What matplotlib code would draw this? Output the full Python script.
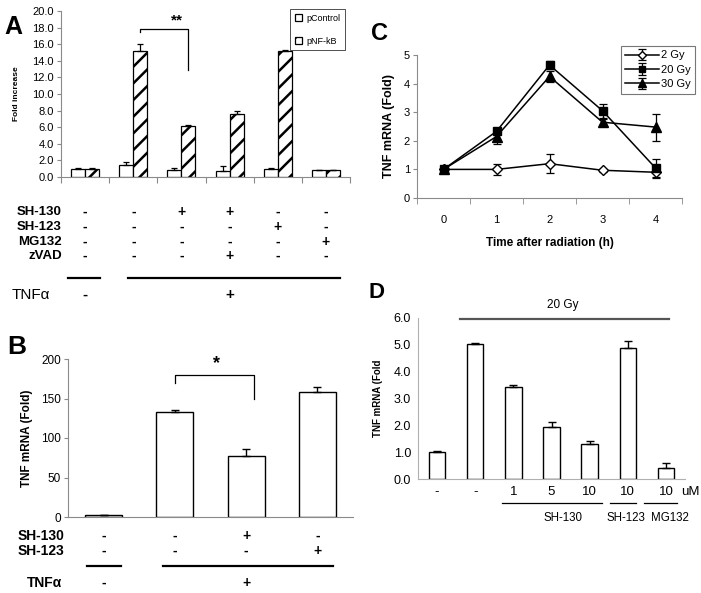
import matplotlib
matplotlib.use("Agg")
import matplotlib.pyplot as plt
import matplotlib.transforms as mtransforms
import numpy as np

plt.rcParams['font.family'] = ['Liberation Sans', 'DejaVu Sans']
plt.rcParams['hatch.linewidth'] = 1.8

W, H = 701, 593

# ---------------- data ----------------
# Panel A
a_groups = np.arange(6)
a_pcontrol = [1.0, 1.5, 0.8, 0.7, 1.0, 0.8]
a_pcontrol_err = [0.05, 0.3, 0.3, 0.6, 0.05, 0.1]
a_pnfkb = [1.0, 15.2, 6.2, 7.6, 15.2, 0.8]
a_pnfkb_err = [0.05, 0.8, 0.1, 0.3, 0.1, 0.1]
a_rows = ['SH-130', 'SH-123', 'MG132', 'zVAD']
a_table = [['-', '-', '+', '+', '-', '-'],
           ['-', '-', '-', '-', '+', '-'],
           ['-', '-', '-', '-', '-', '+'],
           ['-', '-', '-', '+', '-', '-']]
a_yticks = np.arange(0, 21, 2)

# Panel B
b_values = [2.0, 133, 77, 158]
b_err = [0.0, 3, 9, 6]
b_rows = ['SH-130', 'SH-123']
b_table = [['-', '-', '+', '-'],
           ['-', '-', '-', '+']]
b_yticks = [0, 50, 100, 150, 200]

# Panel C
c_time = [0, 1, 2, 3, 4]
c_2gy = [1.0, 1.0, 1.2, 0.97, 0.9]
c_2gy_err = [0.05, 0.2, 0.33, 0.05, 0.2]
c_20gy = [1.0, 2.33, 4.65, 3.05, 1.05]
c_20gy_err = [0.05, 0.1, 0.15, 0.25, 0.3]
c_30gy = [1.0, 2.15, 4.25, 2.65, 2.48]
c_30gy_err = [0.05, 0.27, 0.2, 0.1, 0.47]

# Panel D
d_values = [1.0, 5.02, 3.43, 1.93, 1.32, 4.87, 0.42]
d_err = [0.03, 0.06, 0.09, 0.2, 0.1, 0.26, 0.17]
d_doses = ['-', '-', '1', '5', '10', '10', '10']
d_yticks = np.arange(0, 7, 1.0)


def fx(px):
    return px / W


def fy(py):
    return 1 - py / H


def add_ax(l, t, r, b):
    return fig.add_axes([l / W, 1 - b / H, (r - l) / W, (b - t) / H])


GRAY = '#8a8a8a'

fig = plt.figure(figsize=(W / 100, H / 100), dpi=100)

# ================= Panel A =================
axA = add_ax(61, 11, 350, 177)
bw = 0.29
axA.bar(a_groups - bw / 2, a_pcontrol, bw, color='white', edgecolor='black',
        linewidth=0.9, yerr=[np.zeros(6), a_pcontrol_err],
        error_kw=dict(ecolor='black', elinewidth=0.9, capsize=2.5, capthick=0.9),
        label='pControl', zorder=2)
axA.bar(a_groups + bw / 2, a_pnfkb, bw, color='white', edgecolor='black',
        linewidth=0.9, hatch='//', yerr=[np.zeros(6), a_pnfkb_err],
        error_kw=dict(ecolor='black', elinewidth=0.9, capsize=2.5, capthick=0.9),
        label='pNF-kB', zorder=2)
axA.set_xlim(-0.5, 5.5)
axA.set_ylim(0, 20)
axA.set_yticks(a_yticks)
axA.set_yticklabels([f'{v:.1f}' for v in a_yticks], fontsize=8)
axA.set_xticks(np.arange(-0.5, 6.0, 1.0))
axA.set_xticklabels([])
axA.tick_params(axis='x', length=4, color=GRAY, direction='out')
axA.tick_params(axis='y', length=3, color=GRAY, pad=2)
for s in ['top', 'right']:
    axA.spines[s].set_visible(False)
for s in ['left', 'bottom']:
    axA.spines[s].set_color(GRAY)
axA.set_ylabel('Fold increase', fontsize=6, fontweight='bold', labelpad=9)
leg = axA.legend(loc='upper right', bbox_to_anchor=(fx(345), fy(9)),
                 bbox_transform=fig.transFigure, borderaxespad=0, fontsize=6.5,
                 handlelength=0.8, handleheight=0.8, labelspacing=1.5,
                 handletextpad=0.4, frameon=True, fancybox=False,
                 borderpad=0.55)
leg.get_frame().set_edgecolor('black')
leg.get_frame().set_linewidth(0.6)

# significance bracket A
axA.plot([1 + bw / 2, 1 + bw / 2, 2 + bw / 2, 2 + bw / 2],
         [17.5, 17.85, 17.85, 12.9], color='black', lw=0.9, clip_on=False)
axA.text(1.9, 18.0, '**', ha='center', va='bottom', fontsize=11,
         fontweight='bold')
fig.text(fx(13), fy(27), 'A', fontsize=18, fontweight='bold',
         ha='center', va='center')

# table under A
trA = mtransforms.blended_transform_factory(axA.transData, fig.transFigure)
a_row_y = [212, 227, 242, 256]
for lbl, row, py in zip(a_rows, a_table, a_row_y):
    fig.text(fx(62), fy(py), lbl, ha='right', va='center', fontsize=9.5,
             fontweight='bold')
    for gx, sym in zip(a_groups, row):
        axA.text(gx, fy(py), sym, transform=trA, ha='center', va='center',
                 fontsize=10, fontweight='bold')
axA.plot([-0.35, 0.3], [fy(278), fy(278)], transform=trA, color='black',
         lw=1.6, clip_on=False)
axA.plot([0.89, 5.29], [fy(278), fy(278)], transform=trA, color='black',
         lw=1.6, clip_on=False)
fig.text(fx(12), fy(295), 'TNFα', ha='left', va='center', fontsize=11)
axA.text(0, fy(295), '-', transform=trA, ha='center', va='center',
         fontsize=11, fontweight='bold')
axA.text(3, fy(295), '+', transform=trA, ha='center', va='center',
         fontsize=11, fontweight='bold')

# ================= Panel B =================
axB = add_ax(68, 359, 353, 517)
b_x = np.arange(4)
axB.bar(b_x, b_values, 0.52, color='white', edgecolor='black', linewidth=1.0,
        yerr=[np.zeros(4), b_err],
        error_kw=dict(ecolor='black', elinewidth=1.0, capsize=3, capthick=1.0),
        zorder=2)
axB.set_xlim(-0.5, 3.5)
axB.set_ylim(0, 200)
axB.set_yticks(b_yticks)
axB.set_yticklabels([str(v) for v in b_yticks], fontsize=8.5)
axB.set_xticks([])
axB.tick_params(axis='y', length=3, color=GRAY, pad=2)
for s in ['top', 'right']:
    axB.spines[s].set_visible(False)
for s in ['left', 'bottom']:
    axB.spines[s].set_color(GRAY)
axB.set_ylabel('TNF mRNA (Fold)', fontsize=8.5, fontweight='bold', labelpad=6)
axB.plot([1.0, 1.0, 2.11, 2.11], [170, 180, 180, 149], color='black', lw=0.9,
         clip_on=False)
axB.text(1.58, 184, '*', ha='center', va='bottom', fontsize=13,
         fontweight='bold')
fig.text(fx(17), fy(347), 'B', fontsize=19, fontweight='bold',
         ha='center', va='center')

trB = mtransforms.blended_transform_factory(axB.transData, fig.transFigure)
b_row_y = [536, 551]
for lbl, row, py in zip(b_rows, b_table, b_row_y):
    fig.text(fx(64), fy(py), lbl, ha='right', va='center', fontsize=10,
             fontweight='bold')
    for gx, sym in zip(b_x, row):
        axB.text(gx, fy(py), sym, transform=trB, ha='center', va='center',
                 fontsize=10, fontweight='bold')
axB.plot([-0.24, 0.25], [fy(566), fy(566)], transform=trB, color='black',
         lw=1.6, clip_on=False)
axB.plot([0.83, 3.22], [fy(566), fy(566)], transform=trB, color='black',
         lw=1.6, clip_on=False)
fig.text(fx(62), fy(583), 'TNFα', ha='right', va='center', fontsize=10,
         fontweight='bold')
axB.text(0, fy(583), '-', transform=trB, ha='center', va='center',
         fontsize=10, fontweight='bold')
axB.text(2, fy(583), '+', transform=trB, ha='center', va='center',
         fontsize=10, fontweight='bold')

# ================= Panel C =================
axC = add_ax(417, 55, 682, 198)
ekw = dict(color='black', lw=1.1, capsize=3, elinewidth=0.9, capthick=0.9)
axC.errorbar(c_time, c_2gy, yerr=c_2gy_err, marker='D', markersize=5.5,
             markerfacecolor='white', markeredgecolor='black', label='2 Gy',
             zorder=3, **ekw)
axC.errorbar(c_time, c_20gy, yerr=c_20gy_err, marker='s', markersize=6,
             markerfacecolor='black', markeredgecolor='black', label='20 Gy',
             zorder=3, **ekw)
axC.errorbar(c_time, c_30gy, yerr=c_30gy_err, marker='^', markersize=6.5,
             markerfacecolor='black', markeredgecolor='black', label='30 Gy',
             zorder=3, **ekw)
axC.set_xlim(-0.5, 4.5)
axC.set_ylim(0, 5)
axC.set_yticks(range(6))
axC.set_yticklabels([str(v) for v in range(6)], fontsize=8)
axC.set_xticks(c_time)
axC.set_xticklabels([str(v) for v in c_time], fontsize=8)
axC.set_xticks(np.arange(-0.5, 5.0, 1.0), minor=True)
axC.tick_params(axis='x', which='major', length=0, pad=12)
axC.tick_params(axis='x', which='minor', length=4, color=GRAY)
axC.tick_params(axis='y', length=3, color=GRAY, pad=2)
for s in ['top', 'right']:
    axC.spines[s].set_visible(False)
for s in ['left', 'bottom']:
    axC.spines[s].set_color(GRAY)
axC.set_ylabel('TNF mRNA (Fold)', fontsize=9, fontweight='bold', labelpad=6)
axC.set_xlabel('Time after radiation (h)', fontsize=8.5, fontweight='bold',
               labelpad=9)
legC = axC.legend(loc='upper right', bbox_to_anchor=(fx(695), fy(46)),
                  bbox_transform=fig.transFigure, borderaxespad=0, fontsize=8,
                  handlelength=3.0, labelspacing=0.4, handletextpad=0.2,
                  markerscale=0.8, frameon=True, fancybox=False,
                  borderpad=0.4)
legC.get_frame().set_edgecolor('#555555')
legC.get_frame().set_linewidth(0.8)
fig.text(fx(380), fy(33), 'C', fontsize=17, fontweight='bold',
         ha='center', va='center')

# ================= Panel D =================
axD = add_ax(418, 318, 685, 479)
d_x = np.arange(7)
axD.bar(d_x, d_values, 0.43, color='white', edgecolor='black', linewidth=1.0,
        yerr=[np.zeros(7), d_err],
        error_kw=dict(ecolor='black', elinewidth=1.0, capsize=3, capthick=1.0),
        zorder=2)
axD.set_xlim(-0.5, 6.5)
axD.set_ylim(0, 6)
axD.set_yticks(d_yticks)
axD.set_yticklabels([f'{v:.1f}' for v in d_yticks], fontsize=9)
axD.set_xticks([])
axD.tick_params(axis='y', length=0, pad=5)
for s in ['top', 'right']:
    axD.spines[s].set_visible(False)
for s in ['left', 'bottom']:
    axD.spines[s].set_color('#b0b0b0')
axD.set_ylabel('TNF mRNA (Fold', fontsize=7, fontweight='bold', labelpad=8)
axD.plot([0.6, 6.08], [5.96, 5.96], color='#555555', lw=1.6, clip_on=False)
axD.text(3.3, 6.25, '20 Gy', ha='center', va='bottom', fontsize=8.5)
fig.text(fx(377), fy(292), 'D', fontsize=16, fontweight='bold',
         ha='center', va='center')

trD = mtransforms.blended_transform_factory(axD.transData, fig.transFigure)
for gx, lbl in zip(d_x, d_doses):
    axD.text(gx, fy(492), lbl, transform=trD, ha='center', va='center',
             fontsize=9.5)
axD.text(6.63, fy(492), 'uM', transform=trD, ha='center', va='center',
         fontsize=9.5)
for (x0, x1), name, cx in [((1.7, 4.32), 'SH-130', 3.3),
                           ((4.53, 5.22), 'SH-123', 4.95),
                           ((5.43, 6.29), 'MG132', 6.1)]:
    axD.plot([x0, x1], [fy(503), fy(503)], transform=trD, color='black',
             lw=0.9, clip_on=False)
    axD.text(cx, fy(518), name, transform=trD, ha='center', va='center',
             fontsize=8.3)

fig.savefig('out.png', dpi=100)
